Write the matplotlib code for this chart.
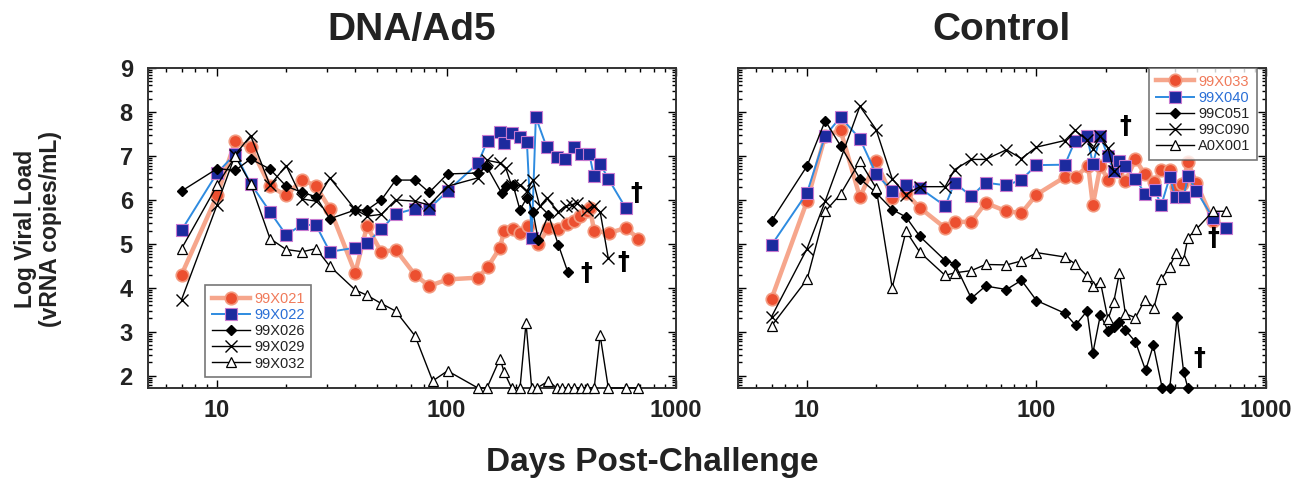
import numpy as np
import matplotlib as mpl
import matplotlib.pyplot as plt
import matplotlib.ticker as ticker

mpl.rcParams.update({
    "font.family": ["Liberation Sans", "DejaVu Sans"],
})

FLOOR = 1.72

# ---- DNA/Ad5 group ----
d021 = [7, 10, 12, 14, 17, 20, 23.5, 27, 31, 40, 45, 52, 60, 73, 84, 101, 137, 151, 171, 178,
        195, 209, 227, 251, 278, 307, 334, 360, 381, 408, 421, 440, 512, 605, 685]
v021 = [4.30, 6.10, 7.33, 7.20, 6.31, 6.10, 6.46, 6.31, 5.80, 4.34, 5.40, 4.81, 4.87, 4.29, 4.04,
        4.19, 4.23, 4.47, 4.91, 5.29, 5.33, 5.25, 5.40, 5.00, 5.36, 5.33, 5.44, 5.53, 5.63, 5.74,
        5.82, 5.29, 5.25, 5.36, 5.12]

d022 = [7, 10, 12, 14, 17, 20, 23.5, 27, 31, 40, 45, 52, 60, 73, 84, 101, 137, 151, 171, 178,
        192, 209, 224, 235, 245, 273, 302, 328, 360, 385, 419, 438, 467, 507, 603]
v022 = [5.31, 6.61, 7.05, 6.37, 5.73, 5.20, 5.44, 5.42, 4.82, 4.91, 5.02, 5.33, 5.68, 5.80, 5.80,
        6.20, 6.83, 7.35, 7.54, 7.30, 7.52, 7.43, 7.31, 5.14, 7.88, 7.20, 6.97, 6.94, 7.20, 7.05,
        7.05, 6.55, 6.82, 6.48, 5.82]

d026 = [7, 10, 12, 14, 17, 20, 23.5, 27, 31, 40, 45, 52, 60, 73, 84, 101, 137, 150, 174, 181,
        195, 209, 224, 238, 251, 278, 307, 337]
v026 = [6.20, 6.71, 6.67, 6.93, 6.70, 6.31, 6.17, 6.07, 5.57, 5.77, 5.77, 6.00, 6.45, 6.45, 6.17,
        6.59, 6.61, 6.75, 6.15, 6.31, 6.33, 5.77, 6.05, 5.73, 5.09, 5.66, 4.98, 4.37]

d029 = [7, 10, 12, 14, 17, 20, 23.5, 27, 31, 40, 45, 52, 60, 73, 84, 101, 137, 150, 171, 181,
        192, 209, 224, 238, 255, 273, 307, 330, 351, 369, 408, 440, 467, 507]
v029 = [3.73, 5.89, 7.03, 7.46, 6.33, 6.78, 6.02, 5.97, 6.50, 5.78, 5.63, 5.67, 6.00, 5.97, 5.88,
        6.31, 6.50, 6.90, 6.84, 6.73, 6.33, 6.33, 6.20, 6.45, 5.85, 6.04, 5.73, 5.85, 5.89, 5.92,
        5.77, 5.85, 5.73, 4.67]

d032 = [7, 10, 12, 14, 17, 20, 23.5, 27, 31, 40, 45, 52, 60, 73, 87, 101, 137, 150, 171, 178,
        192, 209, 222, 235, 248, 278, 302, 320, 340, 360, 385, 410, 440, 467, 507, 603, 685]
v032 = [4.89, 6.33, 6.99, 6.37, 5.12, 4.87, 4.82, 4.89, 4.49, 3.95, 3.83, 3.64, 3.47, 2.90, 1.88,
        2.11, FLOOR, FLOOR, 2.39, 2.09, FLOOR, FLOOR, 3.20, FLOOR, FLOOR, 1.88, FLOOR, FLOOR,
        FLOOR, FLOOR, FLOOR, FLOOR, FLOOR, 2.92, FLOOR, FLOOR, FLOOR]

# ---- Control group ----
d033 = [7, 10, 12, 14, 17, 20, 23.5, 27, 31, 40, 44, 52, 60, 74, 86, 100, 133, 148, 168, 176,
        190, 205, 225, 244, 270, 297, 325, 350, 381, 404, 432, 457, 497, 587]
v033 = [3.75, 5.97, 7.46, 7.58, 6.06, 6.88, 6.05, 6.15, 5.82, 5.36, 5.50, 5.50, 5.93, 5.74, 5.70,
        6.12, 6.52, 6.52, 6.78, 5.88, 6.78, 6.45, 6.65, 6.42, 6.92, 6.58, 6.40, 6.69, 6.67, 6.30,
        6.35, 6.86, 6.39, 5.53]

d040 = [7, 10, 12, 14, 17, 20, 23.5, 27, 31, 40, 44, 52, 60, 74, 86, 100, 133, 147, 166, 176,
        190, 205, 217, 230, 244, 270, 297, 327, 350, 381, 404, 438, 457, 497, 587, 671]
v040 = [4.97, 6.16, 7.46, 7.88, 7.39, 6.59, 6.20, 6.33, 6.27, 5.86, 6.39, 6.08, 6.39, 6.33, 6.46,
        6.79, 6.80, 7.33, 7.46, 6.82, 7.45, 6.99, 6.65, 6.88, 6.77, 6.48, 6.14, 6.23, 5.88, 6.52,
        6.06, 6.06, 6.55, 6.21, 5.59, 5.36]

d051 = [7, 10, 12, 14, 17, 20, 23.5, 27, 31, 40, 44, 52, 60, 74, 86, 100, 133, 148, 166, 176,
        190, 205, 217, 230, 244, 270, 299, 323, 353, 381, 410, 438, 457]
v051 = [5.52, 6.77, 7.80, 7.23, 6.48, 6.16, 5.78, 5.61, 5.17, 4.62, 4.55, 3.76, 4.04, 3.96, 4.17,
        3.71, 3.42, 3.15, 3.47, 2.51, 3.39, 3.02, 3.11, 3.23, 3.04, 2.77, 2.12, 2.69, FLOOR, FLOOR,
        3.33, 2.08, FLOOR]

d090 = [7, 10, 12, 17, 20, 23.5, 27, 31, 40, 44, 52, 60, 74, 86, 100, 133, 147, 166, 176, 190,
        205, 217]
v090 = [3.34, 4.89, 5.97, 8.13, 7.60, 6.48, 6.12, 6.30, 6.30, 6.69, 6.92, 6.92, 7.14, 6.94, 7.20,
        7.35, 7.58, 7.37, 7.16, 7.45, 7.18, 6.65]

d001 = [7, 10, 12, 14, 17, 20, 23.5, 27, 31, 40, 44, 52, 60, 74, 86, 100, 133, 147, 166, 176,
        190, 205, 217, 230, 244, 270, 297, 325, 350, 381, 404, 438, 457, 497, 587, 671]
v001 = [3.13, 4.19, 5.74, 6.13, 6.88, 6.27, 4.00, 5.29, 4.81, 4.28, 4.34, 4.39, 4.53, 4.52, 4.61,
        4.80, 4.70, 4.55, 4.27, 4.04, 4.13, 3.28, 3.67, 4.34, 3.41, 3.32, 3.73, 3.55, 4.19, 4.48,
        4.78, 4.64, 5.14, 5.33, 5.74, 5.74]

# death markers (x, y) per panel
dag_left = [(670, 6.16), (405, 4.34), (588, 4.59)]
dag_right = [(588, 5.14), (515, 2.41), (245, 7.68)]

RED, RED_LINE = "#ec4f30", "#f6a68c"
BLUE, BLUE_LINE = "#1c2a9e", "#2e8be0"


def style_red():
    return dict(color=RED_LINE, lw=3.2, marker="o", ms=9, mfc=RED, mec="#f39a80", mew=1.2)


def style_blue():
    return dict(color=BLUE_LINE, lw=1.4, marker="s", ms=8, mfc=BLUE, mec="#c87ad0", mew=0.8)


def style_k(marker):
    if marker == "D":
        return dict(color="k", lw=1.0, marker="D", ms=5.5, mfc="k", mec="k")
    if marker == "x":
        return dict(color="k", lw=1.0, marker="x", ms=8, mew=1.0)
    return dict(color="k", lw=1.0, marker="^", ms=7, mfc="white", mec="k", mew=0.9)


def setup_axes(ax, ylabels=True):
    ax.set_xscale("log")
    ax.set_xlim(5, 1000)
    ax.set_ylim(FLOOR, 9)
    ax.xaxis.set_major_locator(ticker.FixedLocator([10, 100, 1000]))
    ax.xaxis.set_major_formatter(ticker.FixedFormatter(["10", "100", "1000"]))
    ax.xaxis.set_minor_locator(ticker.LogLocator(base=10, subs=np.arange(2, 10)))
    ax.xaxis.set_minor_formatter(ticker.NullFormatter())
    ax.set_yticks(range(2, 10))
    ax.set_yticks([n + np.log10(k) for n in range(1, 9) for k in range(2, 10)
                   if FLOOR < n + np.log10(k) < 9], minor=True)
    ax.tick_params(which="both", direction="in", top=True, right=True, width=1.0)
    ax.tick_params(which="major", length=6)
    ax.tick_params(which="minor", length=3)
    ax.tick_params(axis="x", which="major", pad=8, labelsize=17)
    ax.tick_params(axis="y", which="major", pad=11, labelsize=17, labelleft=ylabels)
    for lab in ax.get_xticklabels() + ax.get_yticklabels():
        lab.set_fontweight("bold")
        lab.set_color("#222222")
    for sp in ax.spines.values():
        sp.set_linewidth(1.4)
        sp.set_color("#333333")


fig = plt.figure(figsize=(13.02, 4.87), dpi=100)
axL = fig.add_axes([0.1137, 0.2033, 0.4055, 0.6571])
axR = fig.add_axes([0.5668, 0.2033, 0.4055, 0.6571])

axL.plot(d021, v021, label="99X021", clip_on=False, zorder=3, **style_red())
axL.plot(d022, v022, label="99X022", clip_on=False, zorder=4, **style_blue())
axL.plot(d026, v026, label="99X026", clip_on=False, zorder=5, **style_k("D"))
axL.plot(d029, v029, label="99X029", clip_on=False, zorder=5, **style_k("x"))
axL.plot(d032, v032, label="99X032", clip_on=False, zorder=5, **style_k("^"))

axR.plot(d033, v033, label="99X033", clip_on=False, zorder=3, **style_red())
axR.plot(d040, v040, label="99X040", clip_on=False, zorder=4, **style_blue())
axR.plot(d051, v051, label="99C051", clip_on=False, zorder=5, **style_k("D"))
axR.plot(d090, v090, label="99C090", clip_on=False, zorder=5, **style_k("x"))
axR.plot(d001, v001, label="A0X001", clip_on=False, zorder=5, **style_k("^"))

for ax, dags in ((axL, dag_left), (axR, dag_right)):
    for x, y in dags:
        ax.text(x, y, "\u2020", fontsize=17, fontweight="bold", ha="center", va="center",
                family=["DejaVu Sans"])

setup_axes(axL, True)
setup_axes(axR, False)

leg_kw = dict(fontsize=10.5, frameon=True, fancybox=False, handlelength=2.6,
              labelspacing=0.15, borderpad=0.45, handletextpad=0.3, borderaxespad=0)
legL = axL.legend(loc="lower left", bbox_to_anchor=(0.108, 0.034), **leg_kw)
legR = axR.legend(loc="upper right", bbox_to_anchor=(0.983, 1.0), **leg_kw)
for leg in (legL, legR):
    leg.get_frame().set_edgecolor("#555555")
    leg.get_frame().set_linewidth(1.2)
    texts = leg.get_texts()
    texts[0].set_color("#f07a5a")
    texts[1].set_color("#2a6fd6")
    for t in texts[2:]:
        t.set_color("#222222")

fig.text(0.3165, 0.938, "DNA/Ad5", ha="center", va="center", fontsize=28, fontweight="bold",
         color="#222222")
fig.text(0.7695, 0.938, "Control", ha="center", va="center", fontsize=28, fontweight="bold",
         color="#222222")
fig.text(0.5008, 0.051, "Days Post-Challenge", ha="center", va="center", fontsize=24,
         fontweight="bold", color="#222222")
fig.text(0.029, 0.53, "Log Viral Load\n(vRNA copies/mL)", ha="center", va="center",
         rotation=90, fontsize=16.5, fontweight="bold", color="#222222", linespacing=1.1)

fig.savefig("out.png", dpi=100)
